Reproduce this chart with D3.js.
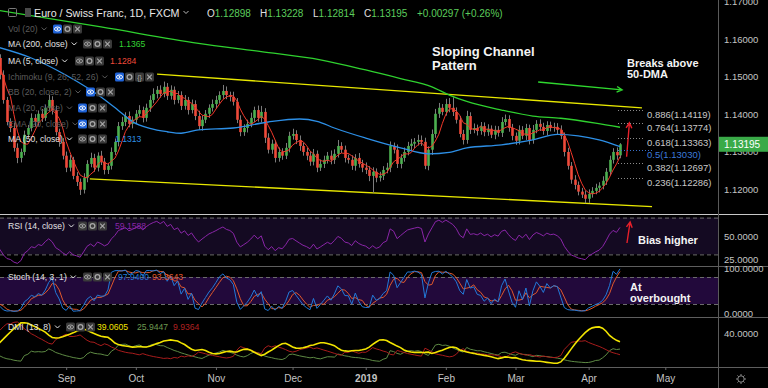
<!DOCTYPE html>
<html>
<head>
<meta charset="utf-8">
<script src="https://cdn.jsdelivr.net/npm/d3@7"></script>
<style>
  html, body { margin: 0; background: #000; }
  svg { display: block; font-family: "Liberation Sans", Arial, sans-serif; }
  .axis .domain { display: none; }
  .axis text { fill: #c4c4c4; font-size: 9.5px; }
  .axis line { stroke: #666; }
</style>
</head>
<body>
<div id="chart"></div>
<script>
// EUR/CHF daily, Aug 2018 - Apr 2019
const firstDay = new Date(2018, 7, 6);
const firstOpen = 1.1560;
const closes = [
  1.1550,1.1505,1.1438,1.1379,1.1363,1.1310,1.1283,1.1299,1.1345,1.1363,
  1.1390,1.1379,1.1401,1.1390,1.1417,1.1438,1.1411,1.1352,1.1326,1.1289,
  1.1257,1.1278,1.1235,1.1219,1.1198,1.1230,1.1267,1.1283,1.1257,1.1289,
  1.1273,1.1251,1.1262,1.1299,1.1326,1.1368,1.1379,1.1395,1.1374,1.1385,
  1.1401,1.1411,1.1390,1.1417,1.1438,1.1454,1.1465,1.1454,1.1473,1.1449,
  1.1465,1.1438,1.1451,1.1422,1.1438,1.1411,1.1427,1.1395,1.1368,1.1385,
  1.1401,1.1417,1.1427,1.1438,1.1451,1.1462,1.1451,1.1446,1.1433,1.1385,
  1.1352,1.1363,1.1374,1.1390,1.1411,1.1390,1.1406,1.1337,1.1305,1.1321,
  1.1283,1.1299,1.1289,1.1310,1.1342,1.1347,1.1331,1.1315,1.1299,1.1289,
  1.1273,1.1294,1.1257,1.1267,1.1278,1.1289,1.1278,1.1294,1.1315,1.1305,
  1.1283,1.1278,1.1262,1.1283,1.1267,1.1257,1.1251,1.1235,1.1246,1.1230,
  1.1235,1.1251,1.1257,1.1315,1.1305,1.1267,1.1283,1.1299,1.1315,1.1321,
  1.1326,1.1331,1.1326,1.1262,1.1305,1.1347,1.1401,1.1417,1.1406,1.1427,
  1.1417,1.1406,1.1385,1.1347,1.1331,1.1395,1.1358,1.1363,1.1355,1.1368,
  1.1352,1.1361,1.1345,1.1358,1.1350,1.1379,1.1387,1.1363,1.1342,1.1329,
  1.1358,1.1342,1.1363,1.1331,1.1358,1.1374,1.1366,1.1355,1.1371,1.1363,
  1.1366,1.1358,1.1342,1.1299,1.1262,1.1225,1.1211,1.1193,1.1185,1.1174,
  1.1187,1.1195,1.1203,1.1209,1.1222,1.1246,1.1278,1.1299,1.1290,1.13195
];
// upper / lower wick lengths in pips
const wickUp = [
  15,10,12,8,10,14,12,9,11,8, 12,10,9,13,8,14,10,12,9,10,
  11,13,8,10,9,12,10,14,11,9, 13,10,8,12,9,11,14,10,12,9,
  10,13,9,11,12,15,10,12,14,10, 12,9,11,10,13,8,12,10,14,11,
  10,9,12,11,10,16,12,9,14,10, 12,10,11,14,9,12,16,10,12,11,
  9,12,10,13,11,14,10,12,9,11, 10,13,9,12,11,10,14,12,16,10,
  11,9,12,10,13,11,14,10,12,9, 11,10,13,12,9,14,10,12,11,13,
  10,14,12,11,9,12,13,13,10,14, 16,28,12,10,11,14,10,12,9,11,
  10,12,9,11,10,13,12,10,11,9, 12,10,11,9,13,10,12,11,10,9,
  11,10,12,9,11,10,12,9,10,11, 12,10,11,9,12,10,11,10,12,3
];
const wickDn = [
  8,12,10,9,11,10,14,12,9,10, 9,12,10,11,8,10,12,9,13,10,
  12,10,9,11,14,10,12,9,11,10, 9,12,11,10,8,12,10,11,9,12,
  10,9,12,10,11,9,12,10,9,11, 10,12,9,11,10,12,9,11,10,12,
  9,11,10,12,9,10,11,12,10,9, 11,10,12,9,11,10,12,14,10,11,
  12,10,11,9,12,10,11,13,10,12, 11,10,12,9,11,10,12,11,10,9,
  12,10,11,13,10,12,11,14,45,12, 10,11,9,12,10,11,12,10,9,11,
  12,10,11,9,12,14,10,11,9,10, 12,11,10,9,12,10,11,9,12,10,
  11,10,9,12,10,11,9,10,12,11, 10,9,11,12,10,9,11,10,12,9,
  10,11,9,12,10,11,12,10,9,12, 11,10,9,12,10,11,9,10,12,8
];
const ma50Idx = [0,10,20,30,35,39,44,49,53,58,68,78,87,92,97,106,116,124,130,135,145,154,161,167,173,179];
const ma50Val = [1.1580,1.1550,1.1504,1.1446,1.1410,1.1380,1.1362,1.1353,1.1349,1.1358,1.1363,1.1379,1.1387,1.1381,1.1363,1.1336,1.1310,1.1294,1.1298,1.1310,1.1318,1.1331,1.1346,1.1342,1.1331,1.1313];
const ma200Idx = [0,30,58,76,93,106,116,125,130,135,145,154,162,172,179];
const ma200Val = [1.1678,1.1633,1.1589,1.1567,1.1545,1.1518,1.1495,1.1473,1.1451,1.1434,1.1411,1.1395,1.1389,1.1376,1.1365];
const channelUpper = [[46.1, 1.1507], [185.3, 1.1417]];
const channelLower = [[26.8, 1.1227], [188.2, 1.1153]];
const breakArrow = [[155.5, 1.1486], [179.6, 1.1465]];
const priceArrow = [[180.9, 1.1286], [181.7, 1.1377]];
const rsiArrow = [[181.0, 42.4], [181.9, 65.2]];
const fibRatios = ['0.886', '0.764', '0.618', '0.5', '0.382', '0.236'];
const fibPrices = [1.14119, 1.13774, 1.13363, 1.13030, 1.12697, 1.12286];
const priceTicks = [1.12, 1.13, 1.14, 1.15, 1.16, 1.17];
const ohlcLabels = ['O', 'H', 'L', 'C'];
const ohlcValues = ['1.12898', '1.13228', '1.12814', '1.13195'];
const lastPrice = 1.13195;

const W = 768, H = 388, PLOT_R = 718;
const GREEN = '#4cb050', RED = '#ef4a3a';

const svg = d3.select('#chart').append('svg').attr('width', W).attr('height', H);
svg.append('rect').attr('width', W).attr('height', H).attr('fill', '#000');
const defs = svg.append('defs');
function clip(id, y0, y1) {
  defs.append('clipPath').attr('id', id).append('rect')
    .attr('x', 0).attr('y', y0).attr('width', PLOT_R).attr('height', y1 - y0);
  return svg.append('g').attr('clip-path', `url(#${id})`);
}

const x = d3.scaleLinear().domain([0, 179]).range([-3.5, 620]);
const y = d3.scaleLinear().domain([1.12, 1.16]).range([189, 39.3]);
const yR = d3.scaleLinear().domain([25, 50]).range([259, 236]);
const yS = d3.scaleLinear().domain([0, 100]).range([313, 268]);
const yD = d3.scaleLinear().domain([0, 40]).range([367, 333.6]);

const bars = closes.map((c, i) => {
  const o = i ? closes[i - 1] : firstOpen;
  return { i, o, c, h: Math.max(o, c) + wickUp[i] / 1e4, l: Math.min(o, c) - wickDn[i] / 1e4 };
});

// ---------- indicators ----------
const ma5 = bars.map((b, i) => ({ i, v: d3.mean(closes.slice(Math.max(0, i - 4), i + 1)) }));

const rsi = (() => {
  let g = 0.0010, l = 0.0015;
  return closes.map((c, i) => {
    if (i > 0) {
      const d = c - closes[i - 1];
      g = (g * 13 + Math.max(d, 0)) / 14;
      l = (l * 13 + Math.max(-d, 0)) / 14;
    }
    return { i, v: 100 - 100 / (1 + g / l) };
  });
})();

const stochK = bars.map((b, i) => {
  const w = bars.slice(Math.max(0, i - 13), i + 1);
  const hh = d3.max(w, d => d.h), ll = d3.min(w, d => d.l);
  return { i, v: 100 * (b.c - ll) / (hh - ll) };
});
const stochD = stochK.map((k, i) => ({ i, v: d3.mean(stochK.slice(Math.max(0, i - 2), i + 1), d => d.v) }));

const dmi = (() => {
  let tr = 0.0040, pdm = 0.0006, mdm = 0.0016, adx = 26;
  const out = { adx: [], pdi: [], mdi: [] };
  bars.forEach((b, i) => {
    if (i > 0) {
      const p = bars[i - 1];
      const up = b.h - p.h, dn = p.l - b.l;
      const t = Math.max(b.h - b.l, Math.abs(b.h - p.c), Math.abs(b.l - p.c));
      tr = (tr * 12 + t) / 13;
      pdm = (pdm * 12 + (up > dn && up > 0 ? up : 0)) / 13;
      mdm = (mdm * 12 + (dn > up && dn > 0 ? dn : 0)) / 13;
    }
    const pdi = 100 * pdm / tr, mdi = 100 * mdm / tr;
    const dx = 100 * Math.abs(pdi - mdi) / (pdi + mdi);
    if (i > 0) adx = (adx * 7 + dx) / 8;
    out.adx.push({ i, v: adx }); out.pdi.push({ i, v: pdi }); out.mdi.push({ i, v: mdi });
  });
  return out;
})();

// ---------- panel backgrounds ----------
svg.append('rect').attr('x', 0).attr('width', PLOT_R).attr('y', yR(70)).attr('height', yR(30) - yR(70)).attr('fill', '#140a22');
svg.append('rect').attr('x', 0).attr('width', PLOT_R).attr('y', yS(80)).attr('height', yS(20) - yS(80)).attr('fill', '#22093b');
[[yR, 70], [yR, 30], [yS, 80], [yS, 20]].forEach(([s, v]) => {
  svg.append('line').attr('x1', 0).attr('x2', PLOT_R).attr('y1', s(v) + 0.5).attr('y2', s(v) + 0.5)
    .attr('stroke', '#6c6c6c').attr('stroke-dasharray', '4,3');
});

// ---------- main price panel ----------
const main = clip('clipMain', 0, 214);
const lineI = d3.line().x(d => x(d[0])).y(d => y(d[1]));

main.append('path').datum(channelUpper).attr('d', lineI).attr('stroke', '#e8e800').attr('stroke-width', 1.3).attr('fill', 'none');
main.append('path').datum(channelLower).attr('d', lineI).attr('stroke', '#e8e800').attr('stroke-width', 1.3).attr('fill', 'none');

const candles = main.append('g');
candles.selectAll('line').data(bars).join('line')
  .attr('x1', d => Math.round(x(d.i)) + 0.5).attr('x2', d => Math.round(x(d.i)) + 0.5)
  .attr('y1', d => y(d.h)).attr('y2', d => y(d.l))
  .attr('stroke', '#7c7c7c');
candles.selectAll('rect').data(bars).join('rect')
  .attr('x', d => Math.round(x(d.i)) - 0.8).attr('width', 2.6)
  .attr('y', d => y(Math.max(d.o, d.c)))
  .attr('height', d => Math.max(1, Math.abs(y(d.o) - y(d.c))))
  .attr('fill', d => d.c >= d.o ? GREEN : RED);

const curve = d3.line().x(d => x(d[0])).y(d => y(d[1])).curve(d3.curveMonotoneX);
main.append('path').datum(ma200Idx.map((k, j) => [k, ma200Val[j]])).attr('d', curve)
  .attr('stroke', '#2fd12f').attr('stroke-width', 1.3).attr('fill', 'none');
main.append('path').datum(ma50Idx.map((k, j) => [k, ma50Val[j]])).attr('d', curve)
  .attr('stroke', '#2d8fe6').attr('stroke-width', 1.3).attr('fill', 'none');
main.append('path').datum(ma5).attr('d', d3.line().x(d => x(d.i)).y(d => y(d.v)))
  .attr('stroke', '#f2382a').attr('stroke-width', 1).attr('fill', 'none');

function arrow(g, pts, sx, sy, color) {
  const [a, b] = pts.map(p => [sx(p[0]), sy(p[1])]);
  const ang = Math.atan2(b[1] - a[1], b[0] - a[0]);
  const s = 6, t = 0.5;
  g.append('path')
    .attr('d', `M${a[0]},${a[1]}L${b[0]},${b[1]}M${b[0] - s * Math.cos(ang - t)},${b[1] - s * Math.sin(ang - t)}L${b[0]},${b[1]}L${b[0] - s * Math.cos(ang + t)},${b[1] - s * Math.sin(ang + t)}`)
    .attr('stroke', color).attr('stroke-width', 1.4).attr('fill', 'none');
}
arrow(svg, breakArrow, x, y, '#2fd82f');
arrow(svg, priceArrow, x, y, '#e8202a');

// fibonacci levels
fibPrices.forEach((p, k) => {
  const blue = fibRatios[k] === '0.5';
  svg.append('line').attr('x1', 618).attr('x2', blue ? 652 : 643)
    .attr('y1', Math.round(y(p)) + 0.5).attr('y2', Math.round(y(p)) + 0.5)
    .attr('stroke', blue ? '#3a6fc8' : '#8a8a8a').attr('stroke-dasharray', '1,2');
  svg.append('text').attr('x', 647).attr('y', y(p) + 8)
    .attr('fill', blue ? '#3d7ad8' : '#c8c8c8').style('font-size', '9.5px')
    .text(`${fibRatios[k]}(${p.toFixed(5)})`);
});

// ---------- RSI ----------
const rsiG = clip('clipRsi', 215, 265);
rsiG.append('path').datum(rsi).attr('d', d3.line().x(d => x(d.i)).y(d => yR(d.v)))
  .attr('stroke', '#8a25a8').attr('fill', 'none');
arrow(svg, rsiArrow, x, yR, '#e8202a');

// ---------- Stoch ----------
const stG = clip('clipSt', 267, 316);
const stLine = d3.line().x(d => x(d.i)).y(d => yS(d.v));
stG.append('path').datum(stochD).attr('d', stLine).attr('stroke', '#e0582c').attr('fill', 'none');
stG.append('path').datum(stochK).attr('d', stLine).attr('stroke', '#2279d8').attr('fill', 'none');

// ---------- DMI ----------
const dG = clip('clipDmi', 318, 366);
const dLine = d3.line().x(d => x(d.i)).y(d => yD(d.v));
dG.append('path').datum(dmi.pdi).attr('d', dLine).attr('stroke', '#5e8a44').attr('fill', 'none');
dG.append('path').datum(dmi.mdi).attr('d', dLine).attr('stroke', '#a81c1c').attr('fill', 'none');
dG.append('path').datum(dmi.adx).attr('d', dLine).attr('stroke', '#f2e400').attr('stroke-width', 1.6).attr('fill', 'none');

// ---------- separators & axes ----------
svg.append('line').attr('x1', 0).attr('x2', W).attr('y1', 214.5).attr('y2', 214.5).attr('stroke', '#c8c8c8').attr('stroke-width', 1.2);
[266, 317, 367].forEach(v => svg.append('line').attr('x1', 0).attr('x2', W).attr('y1', v + 0.5).attr('y2', v + 0.5).attr('stroke', '#5e5e5e'));
svg.append('line').attr('x1', PLOT_R + 0.5).attr('x2', PLOT_R + 0.5).attr('y1', 0).attr('y2', H).attr('stroke', '#5a5a5a');

const rightAxis = (scale, vals, fmt) => svg.append('g').attr('class', 'axis')
  .attr('transform', `translate(${PLOT_R},0)`)
  .call(d3.axisRight(scale).tickValues(vals).tickFormat(d3.format(fmt)).tickSize(0).tickPadding(6));
rightAxis(y, priceTicks, '.5f');
rightAxis(yR, [50, 25], '.4f');
rightAxis(yS, [100, 0], '.4f');
rightAxis(yD, [40], '.4f');

svg.append('rect').attr('x', PLOT_R + 1).attr('y', y(lastPrice) - 7.5).attr('width', W - PLOT_R).attr('height', 15).attr('fill', '#3aaa48');
svg.append('text').attr('x', PLOT_R + 6).attr('y', y(lastPrice) + 3.5).attr('fill', '#fff').style('font-size', '10px').text(lastPrice.toFixed(5));

// month ticks from trading days
const days = [];
for (const d = new Date(firstDay); days.length < 200; d.setDate(d.getDate() + 1)) {
  if (d.getDay() > 0 && d.getDay() < 6) days.push(new Date(d));
}
const monthIdx = days.map((d, i) => i).filter(i => i > 0 && days[i].getMonth() !== days[i - 1].getMonth() && x(i) < 700);
const tAxis = svg.append('g').attr('class', 'axis').attr('transform', 'translate(0,367)')
  .call(d3.axisBottom(x).tickValues(monthIdx).tickSize(3).tickPadding(5)
    .tickFormat(i => days[i].getMonth() === 0 ? String(days[i].getFullYear()) : d3.timeFormat('%b')(days[i])));
tAxis.selectAll('text').style('font-size', '10px');
tAxis.selectAll('text').filter(i => days[i].getMonth() === 0).attr('font-weight', 'bold').attr('fill', '#e8e8e8');

// settings glyph
const gear = svg.append('g').attr('transform', 'translate(741,379)').attr('stroke', '#8a8a8a').attr('fill', 'none');
gear.append('circle').attr('r', 3.2);
d3.range(8).forEach(k => {
  const a = k * Math.PI / 4;
  gear.append('line').attr('x1', 3.2 * Math.cos(a)).attr('y1', 3.2 * Math.sin(a)).attr('x2', 5 * Math.cos(a)).attr('y2', 5 * Math.sin(a));
});

// ---------- header & legends ----------
svg.append('rect').attr('x', 8.5).attr('y', 8.5).attr('width', 8).attr('height', 8).attr('rx', 1).attr('fill', 'none').attr('stroke', '#7a7a7a');
svg.append('rect').attr('x', 25).attr('y', 8).attr('width', 6).attr('height', 9).attr('fill', '#4a4a4a');
const title = svg.append('text').attr('x', 34).attr('y', 16.5).attr('fill', '#e8e8e8').style('font-size', '10.7px').text('Euro / Swiss Franc, 1D, FXCM');
function chevron(x0, yc, color) {
  svg.append('path').attr('d', `M${x0},${yc - 1.5}l2.5,2.5l2.5,-2.5`).attr('stroke', color).attr('fill', 'none');
}
chevron(34 + title.node().getComputedTextLength() + 4, 12.5, '#bbb');
const ohlcX = [207, 260, 313, 364];
ohlcLabels.forEach((lab, k) => {
  const t = svg.append('text').attr('x', ohlcX[k]).attr('y', 16.5).style('font-size', '10px');
  t.append('tspan').attr('fill', '#e0e0e0').text(lab);
  t.append('tspan').attr('fill', '#5ccd5c').text(ohlcValues[k]);
});
svg.append('text').attr('x', 417).attr('y', 16.5).attr('fill', '#5ccd5c').style('font-size', '10px').text('+0.00297 (+0.26%)');

const legends = [
  ['Vol (20)', 29, true, 53, ['eye', 'gear', 'close'], []],
  ['MA (200, close)', 44, false, 83, ['eye', 'gear', 'close'], [['1.1365', 119, '#34d234']]],
  ['MA (5, close)', 61, false, 75, ['eye', 'gear', 'close'], [['1.1284', 110, '#f04a3a']]],
  ['Ichimoku (9, 26, 52, 26)', 77, true, 115, ['eye', 'gear', 'code', 'close'], []],
  ['BB (20, close, 2)', 92, true, 86, ['eye', 'gear', 'close'], []],
  ['MA (20, close)', 108, true, 78, ['eye', 'gear', 'close'], []],
  ['EMA (20, close)', 124, true, 78, ['eye', 'gear', 'close'], []],
  ['MA (50, close)', 139, false, 78, ['eye', 'gear', 'close'], [['1.1313', 115, '#2d8fe6']]],
  ['RSI (14, close)', 226, false, 78, ['eye', 'gear', 'close'], [['59.1588', 115, '#8a25a8']]],
  ['Stoch (14, 3, 1)', 277, false, 83, ['eye', 'gear', 'close'], [['97.9400', 118, '#2279d8'], ['93.3643', 152, '#e0582c']]],
  ['DMI (13, 8)', 327, false, 66, ['eye', 'gear', 'close'], [['39.0605', 97, '#f2e400'], ['25.9447', 137, '#6e9a50'], ['9.9364', 173, '#b02020']]]
];
legends.forEach(([name, yc, dim, ix, icons, vals]) => {
  const col = dim ? '#5c5c5c' : '#e2e2e2';
  const t = svg.append('text').attr('x', 8).attr('y', yc + 3).attr('fill', col).style('font-size', '8.6px').text(name);
  chevron(8 + t.node().getComputedTextLength() + 4, yc, col);
  icons.forEach((kind, j) => {
    const g = svg.append('g').attr('transform', `translate(${ix + j * 10},${yc - 4.5})`);
    g.append('rect').attr('width', 9).attr('height', 9).attr('rx', 1.5).attr('fill', dim && j === 0 ? '#1f63d8' : '#3a3a3a');
    const s = dim && j === 0 ? '#fff' : '#a8a8a8';
    if (kind === 'eye') {
      g.append('ellipse').attr('cx', 4.5).attr('cy', 4.5).attr('rx', 3).attr('ry', 2).attr('fill', 'none').attr('stroke', s);
      g.append('circle').attr('cx', 4.5).attr('cy', 4.5).attr('r', 0.9).attr('fill', s);
    } else if (kind === 'gear') {
      g.append('circle').attr('cx', 4.5).attr('cy', 4.5).attr('r', 2.4).attr('fill', 'none').attr('stroke', s).attr('stroke-width', 1.3);
    } else if (kind === 'code') {
      g.append('text').attr('x', 4.5).attr('y', 7).attr('text-anchor', 'middle').attr('fill', s).style('font-size', '7px').text('{}');
    } else {
      g.append('path').attr('d', 'M2.2,2.2L6.8,6.8M6.8,2.2L2.2,6.8').attr('stroke', s).attr('stroke-width', 1.2);
    }
  });
  vals.forEach(([v, vx, c]) => svg.append('text').attr('x', vx).attr('y', yc + 3).attr('fill', c).style('font-size', '8.6px').text(v));
});

// ---------- annotations ----------
const note = (tx, ty, size, gap, lines) => lines.forEach((s, k) =>
  svg.append('text').attr('x', tx).attr('y', ty + k * gap).attr('fill', '#f4f4f4')
    .attr('font-weight', 'bold').style('font-size', size + 'px').text(s));
note(432, 56, 13, 14, ['Sloping Channel', 'Pattern']);
note(627, 67, 11, 11, ['Breaks above', '50-DMA']);
note(638, 244, 11, 11, ['Bias higher']);
note(630, 291, 11, 11, ['At', 'overbought']);
</script>
</body>
</html>
